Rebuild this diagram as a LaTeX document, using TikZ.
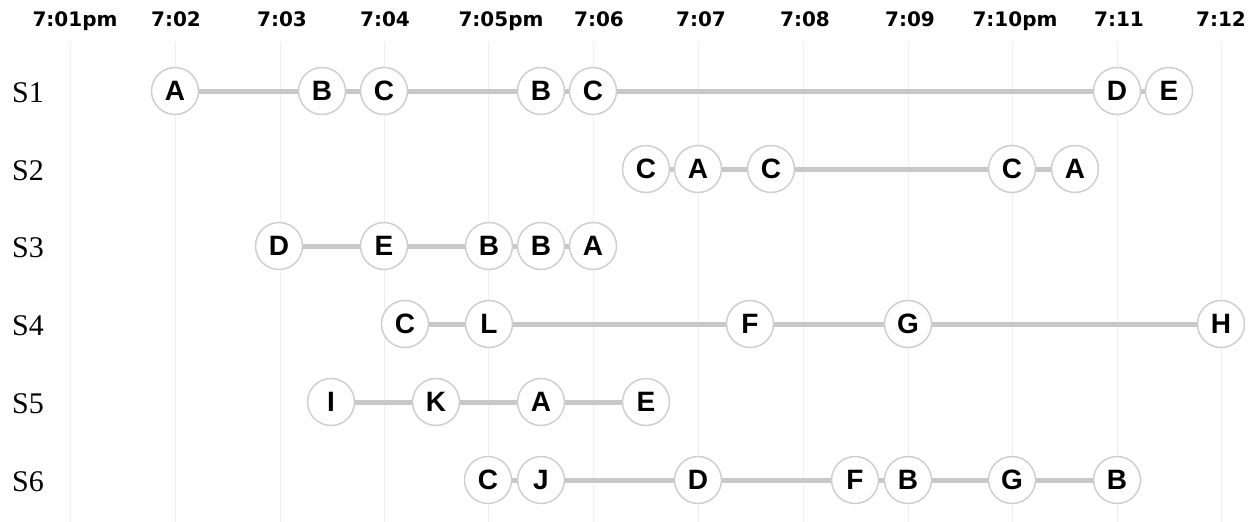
\documentclass[tikz,border=0pt]{standalone}
\usepackage{fontspec}
\newfontfamily\lblfont{Liberation Serif}
\newfontfamily\timefont{DejaVu Sans}
\newfontfamily\evfont{Liberation Sans}
\definecolor{gridgray}{HTML}{EEEEEE}
\definecolor{circgray}{HTML}{CFCFCF}
\definecolor{linkgray}{HTML}{C8C8C8}
\tikzset{
  ev/.style={circle, draw=circgray, fill=white, line width=1.5pt, minimum size=47pt, inner sep=0pt,
    font=\evfont\bfseries\fontsize{28}{28}\selectfont},
  link/.style={draw=linkgray, line width=5pt},
  gridline/.style={draw=gridgray, line width=1pt},
  timelbl/.style={anchor=base, inner sep=0pt, font=\timefont\bfseries\fontsize{20}{20}\selectfont},
  rowlbl/.style={anchor=base west, inner sep=0pt, font=\lblfont\fontsize{30}{30}\selectfont}
}
\begin{document}
\begin{tikzpicture}[x=1pt,y=-1pt]
\useasboundingbox (0,0) rectangle (1251,522);
% grid lines
\foreach \gx [count=\i] in {70,175,280,384,488,593,698,803,908,1012,1117,1221}
  \draw[gridline] (\gx,42) -- (\gx,522);
% time labels
\node[timelbl] (t1) at (75,27) {7:01pm};
\node[timelbl] (t2) at (176,27) {7:02};
\node[timelbl] (t3) at (282,27) {7:03};
\node[timelbl] (t4) at (385,27) {7:04};
\node[timelbl] (t5) at (501,27) {7:05pm};
\node[timelbl] (t6) at (599,27) {7:06};
\node[timelbl] (t7) at (701,27) {7:07};
\node[timelbl] (t8) at (805,27) {7:08};
\node[timelbl] (t9) at (910,27) {7:09};
\node[timelbl] (t10) at (1015,27) {7:10pm};
\node[timelbl] (t11) at (1119,27) {7:11};
\node[timelbl] (t12) at (1221,27) {7:12};
% row labels
\node[rowlbl] (l1) at (12,102) {S1};
\node[rowlbl] (l2) at (12,180) {S2};
\node[rowlbl] (l3) at (12,257) {S3};
\node[rowlbl] (l4) at (12,335) {S4};
\node[rowlbl] (l5) at (12,413) {S5};
\node[rowlbl] (l6) at (12,491) {S6};
% S1
\node[ev] (a1) at (175,91) {A};
\node[ev] (a2) at (322,91) {B};
\node[ev] (a3) at (384,91) {C};
\node[ev] (a4) at (541,91) {B};
\node[ev] (a5) at (593,91) {C};
\node[ev] (a6) at (1117,91) {D};
\node[ev] (a7) at (1169,91) {E};
% S2
\node[ev] (b1) at (646,169) {C};
\node[ev] (b2) at (698,169) {A};
\node[ev] (b3) at (771,169) {C};
\node[ev] (b4) at (1012,169) {C};
\node[ev] (b5) at (1075,169) {A};
% S3
\node[ev] (c1) at (279,246) {D};
\node[ev] (c2) at (384,246) {E};
\node[ev] (c3) at (489,246) {B};
\node[ev] (c4) at (541,246) {B};
\node[ev] (c5) at (593,246) {A};
% S4
\node[ev] (d1) at (405,324) {C};
\node[ev] (d2) at (489,324) {L};
\node[ev] (d3) at (750,324) {F};
\node[ev] (d4) at (908,324) {G};
\node[ev] (d5) at (1221,324) {H};
% S5
\node[ev] (e1) at (331,402) {I};
\node[ev] (e2) at (436,402) {K};
\node[ev] (e3) at (541,402) {A};
\node[ev] (e4) at (646,402) {E};
% S6
\node[ev] (f1) at (488,480) {C};
\node[ev] (f2) at (541,480) {J};
\node[ev] (f3) at (698,480) {D};
\node[ev] (f4) at (855,480) {F};
\node[ev] (f5) at (908,480) {B};
\node[ev] (f6) at (1012,480) {G};
\node[ev] (f7) at (1117,480) {B};
% connectors
\draw[link] (a1) -- (a2) (a2) -- (a3) (a3) -- (a4) (a4) -- (a5) (a5) -- (a6) (a6) -- (a7);
\draw[link] (b1) -- (b2) (b2) -- (b3) (b3) -- (b4) (b4) -- (b5);
\draw[link] (c1) -- (c2) (c2) -- (c3) (c3) -- (c4) (c4) -- (c5);
\draw[link] (d1) -- (d2) (d2) -- (d3) (d3) -- (d4) (d4) -- (d5);
\draw[link] (e1) -- (e2) (e2) -- (e3) (e3) -- (e4);
\draw[link] (f1) -- (f2) (f2) -- (f3) (f3) -- (f4) (f4) -- (f5) (f5) -- (f6) (f6) -- (f7);
\end{tikzpicture}
\end{document}
